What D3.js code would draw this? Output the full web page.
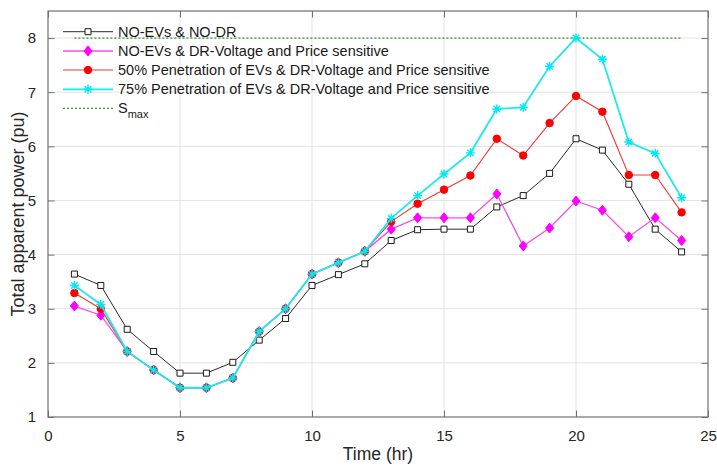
<!DOCTYPE html>
<html>
<head>
<meta charset="utf-8">
<script src="https://cdn.jsdelivr.net/npm/d3@7"></script>
<style>
  body { margin: 0; background: #fff; }
  svg { display: block; font-family: "Liberation Sans", Arial, sans-serif; }
</style>
</head>
<body>
<svg id="chart" width="717" height="466"></svg>
<script>
// hours of the day
const hours = [1, 2, 3, 4, 5, 6, 7, 8, 9, 10, 11, 12, 13, 14, 15, 16, 17, 18, 19, 20, 21, 22, 23, 24];

const noEvNoDr = [3.64, 3.43, 2.62, 2.21, 1.81, 1.81, 2.01, 2.42, 2.82, 3.43, 3.63, 3.83,
                  4.26, 4.46, 4.47, 4.47, 4.88, 5.09, 5.50, 6.14, 5.93, 5.30, 4.47, 4.05];
const noEvDr   = [3.05, 2.88, 2.21, 1.87, 1.54, 1.54, 1.72, 2.58, 3.00, 3.64, 3.85, 4.06,
                  4.47, 4.68, 4.68, 4.68, 5.12, 4.16, 4.49, 4.99, 4.82, 4.33, 4.68, 4.26];
const ev50     = [3.29, 3.00, 2.21, 1.87, 1.54, 1.54, 1.72, 2.58, 3.00, 3.64, 3.85, 4.06,
                  4.61, 4.94, 5.20, 5.46, 6.14, 5.83, 6.43, 6.93, 6.64, 5.47, 5.47, 4.78];
const ev75     = [3.43, 3.08, 2.21, 1.87, 1.54, 1.54, 1.72, 2.58, 3.00, 3.64, 3.85, 4.06,
                  4.67, 5.09, 5.49, 5.88, 6.69, 6.72, 7.48, 8.00, 7.61, 6.08, 5.87, 5.05];
const sMax = 8;

const xTicks = [0, 5, 10, 15, 20, 25];
const yTicks = [1, 2, 3, 4, 5, 6, 7, 8];

const legendLabels = [
  "NO-EVs & NO-DR",
  "NO-EVs & DR-Voltage and Price sensitive",
  "50% Penetration of EVs & DR-Voltage and Price sensitive",
  "75% Penetration of EVs & DR-Voltage and Price sensitive"
];

const svg = d3.select("#chart");
const pLeft = 48, pRight = 708, pTop = 11, pBottom = 417;

const x = d3.scaleLinear().domain([0, 25]).range([pLeft, pRight]);
const y = d3.scaleLinear().domain([1, 8.5]).range([pBottom, pTop]);

// grid
const grid = svg.append("g");
grid.selectAll(".gx").data(xTicks.slice(1, -1)).join("line")
  .attr("x1", d => x(d)).attr("x2", d => x(d))
  .attr("y1", pTop).attr("y2", pBottom)
  .attr("stroke", "#e3e3e3").attr("stroke-width", 1);
grid.selectAll(".gy").data(yTicks.slice(1)).join("line")
  .attr("y1", d => y(d)).attr("y2", d => y(d))
  .attr("x1", pLeft).attr("x2", pRight)
  .attr("stroke", "#e3e3e3").attr("stroke-width", 1);

// axes (ticks inside, like matlab)
const axisColor = "#707070";
function styleAxis(g) {
  g.select(".domain").remove();
  g.selectAll(".tick line").attr("stroke", axisColor);
  g.selectAll(".tick text").attr("fill", "#262626").style("font-size", "15px");
}
svg.append("g").attr("transform", `translate(0,${pBottom})`)
  .call(d3.axisBottom(x).tickValues(xTicks).tickSizeInner(-6.5).tickSizeOuter(0).tickPadding(13))
  .call(styleAxis);
svg.append("g").attr("transform", `translate(${pLeft},0)`)
  .call(d3.axisLeft(y).tickValues(yTicks).tickSizeInner(-6.5).tickSizeOuter(0).tickPadding(12))
  .call(styleAxis);
svg.append("g").attr("transform", `translate(0,${pTop})`)
  .call(d3.axisTop(x).tickValues(xTicks).tickSizeInner(-6.5).tickSizeOuter(0).tickFormat(""))
  .call(styleAxis);
svg.append("g").attr("transform", `translate(${pRight},0)`)
  .call(d3.axisRight(y).tickValues(yTicks).tickSizeInner(-6.5).tickSizeOuter(0).tickFormat(""))
  .call(styleAxis);

svg.append("rect")
  .attr("x", pLeft).attr("y", pTop).attr("width", pRight - pLeft).attr("height", pBottom - pTop)
  .attr("fill", "none").attr("stroke", axisColor).attr("stroke-width", 1.2);

// axis labels
svg.append("text")
  .attr("x", (pLeft + pRight) / 2).attr("y", 460)
  .attr("text-anchor", "middle").attr("fill", "#262626")
  .style("font-size", "17.5px").text("Time (hr)");
svg.append("text")
  .attr("transform", `translate(24,${(pTop + pBottom) / 2}) rotate(-90)`)
  .attr("text-anchor", "middle").attr("fill", "#262626")
  .style("font-size", "18px").text("Total apparent power (pu)");

// S_max line
svg.append("line")
  .attr("x1", x(1)).attr("x2", x(24))
  .attr("y1", y(sMax)).attr("y2", y(sMax))
  .attr("stroke", "#007a00").attr("stroke-width", 1)
  .attr("stroke-dasharray", "2,2");

// marker shapes
const markerPath = {
  square: "M-3,-3h6v6h-6z",
  diamond: "M0,-5L4,0L0,5L-4,0z",
  circle: d3.symbol(d3.symbolCircle, 44)(),
  star: "M-4.5,0H4.5M0,-4.5V4.5M-3.2,-3.2L3.2,3.2M-3.2,3.2L3.2,-3.2"
};

const series = [
  { values: noEvNoDr, line: "#2a2a2a", width: 1, marker: "square", fill: "#fff", stroke: "#1a1a1a" },
  { values: noEvDr, line: "#f050f0", width: 1.3, marker: "diamond", fill: "#ff00ff", stroke: "#ff00ff" },
  { values: ev50, line: "#e83a3a", width: 1.1, marker: "circle", fill: "#ff0000", stroke: "#ff0000" },
  { values: ev75, line: "#20e8ee", width: 1.8, marker: "star", fill: "none", stroke: "#00e8f0" }
];

const line = d3.line().x((d, i) => x(hours[i])).y(d => y(d));

series.forEach(s => {
  svg.append("path").datum(s.values)
    .attr("d", line).attr("fill", "none")
    .attr("stroke", s.line).attr("stroke-width", s.width);
  svg.append("g").selectAll("path").data(s.values).join("path")
    .attr("transform", (d, i) => `translate(${x(hours[i])},${y(d)})`)
    .attr("d", markerPath[s.marker])
    .attr("fill", s.fill).attr("stroke", s.stroke)
    .attr("stroke-width", s.marker === "star" ? 1.4 : 1);
});

// legend
const legendY = [31.7, 51, 70, 89.3, 108.3];
const lg = svg.append("g");
series.forEach((s, i) => {
  lg.append("line").attr("x1", 63).attr("x2", 113)
    .attr("y1", legendY[i]).attr("y2", legendY[i])
    .attr("stroke", s.line).attr("stroke-width", s.width);
  lg.append("path").attr("transform", `translate(88,${legendY[i]})`)
    .attr("d", markerPath[s.marker])
    .attr("fill", s.fill).attr("stroke", s.stroke)
    .attr("stroke-width", s.marker === "star" ? 1.4 : 1);
  lg.append("text").attr("x", 118).attr("y", legendY[i] + 5)
    .attr("fill", "#1a1a1a").style("font-size", "14.5px").text(legendLabels[i]);
});
lg.append("line").attr("x1", 63).attr("x2", 113)
  .attr("y1", legendY[4]).attr("y2", legendY[4])
  .attr("stroke", "#007a00").attr("stroke-dasharray", "2,2");
const st = lg.append("text").attr("x", 118).attr("y", legendY[4] + 5)
  .attr("fill", "#1a1a1a").style("font-size", "14.5px");
st.append("tspan").text("S");
st.append("tspan").attr("dy", 5).style("font-size", "11px").text("max");
</script>
</body>
</html>
